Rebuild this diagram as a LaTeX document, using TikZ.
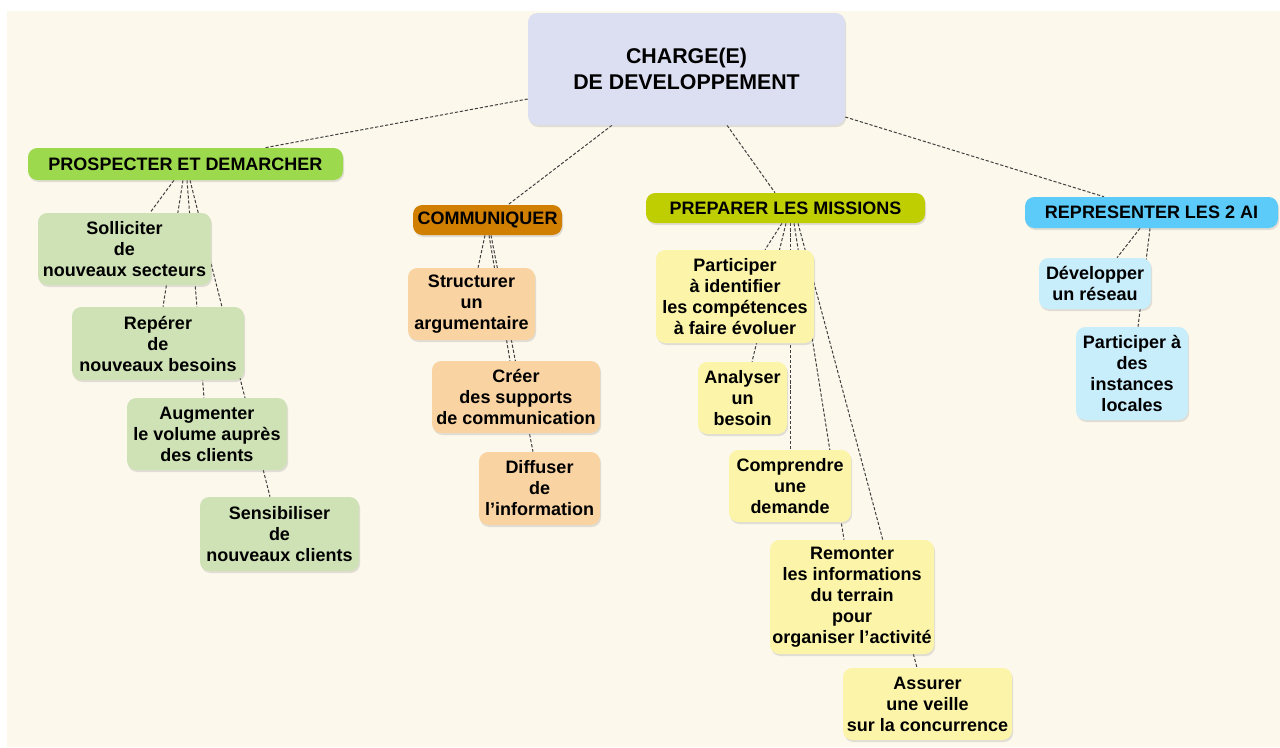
\documentclass[tikz,border=0pt]{standalone}
\usepackage{fontspec}
\setmainfont{Liberation Sans}
\usetikzlibrary{calc,shadows}
\pgfdeclarelayer{bgl}
\pgfdeclarelayer{lnl}
\pgfsetlayers{bgl,lnl,main}
\definecolor{cBg}{HTML}{FCF8EC}
\definecolor{cCtr}{HTML}{DCDFF2}
\definecolor{cPro}{HTML}{9CD94C}
\definecolor{cProL}{HTML}{CFE2B6}
\definecolor{cCom}{HTML}{D17F00}
\definecolor{cComL}{HTML}{FAD3A2}
\definecolor{cPre}{HTML}{BFCE00}
\definecolor{cPreL}{HTML}{FCF5A9}
\definecolor{cRep}{HTML}{5CCBF9}
\definecolor{cRepL}{HTML}{C8EDFB}
\tikzset{
  sz/.style 2 args={minimum width=#1*0.75pt, minimum height=#2*0.75pt},
  basebox/.style={rectangle, rounded corners=7pt, inner sep=0pt, align=center,
    font=\bfseries\fontsize{13.5}{15.75}\selectfont, text=black,
    drop shadow={opacity=0.22, shadow xshift=0.8pt, shadow yshift=-1.5pt}},
  hdr/.style={basebox},
  sub/.style={basebox},
  ctrbox/.style={basebox, font=\bfseries\fontsize{16}{19.5}\selectfont},
  conn/.style={dash pattern=on 2.4pt off 1.4pt, line width=0.75pt, black!75}
}
\begin{document}
\begin{tikzpicture}[x=0.75pt, y=-0.75pt]
\useasboundingbox (0,0) rectangle (1280,747);
\begin{pgfonlayer}{bgl}
\fill[white] (0,0) rectangle (1280,747);
\fill[cBg] (7,11) rectangle (1280,747);
\end{pgfonlayer}

% center
\node[ctrbox, fill=cCtr, sz={317}{112}] (ctr) at (686.5,69) {CHARGE(E)\\DE DEVELOPPEMENT};

% headers
\node[hdr, fill=cPro, sz={315}{32}] (pro) at (185.5,164) {PROSPECTER ET DEMARCHER};
\node[hdr, fill=cCom, sz={149}{30}] (com) at (487.5,220) {COMMUNIQUER};
\node[hdr, fill=cPre, sz={279}{30}] (pre) at (785.5,208) {PREPARER LES MISSIONS};
\node[hdr, fill=cRep, sz={253}{31}] (rep) at (1151.5,212.5) {REPRESENTER LES 2 AI};

% prospecter children
\node[sub, fill=cProL, sz={173}{72}] (sol) at (124.5,249) {Solliciter\\de\\nouveaux secteurs};
\node[sub, fill=cProL, sz={172}{73}] (rer) at (158,343.5) {Repérer\\de\\nouveaux besoins};
\node[sub, fill=cProL, sz={160}{72}] (aug) at (207,434) {Augmenter\\le volume auprès\\des clients};
\node[sub, fill=cProL, sz={159}{74}] (sen) at (279.5,534) {Sensibiliser\\de\\nouveaux clients};

% communiquer children
\node[sub, fill=cComL, sz={127}{72}] (str) at (471.5,304) {Structurer\\un\\argumentaire};
\node[sub, fill=cComL, sz={168}{72}] (cre) at (516,397) {Créer\\des supports\\de communication};
\node[sub, fill=cComL, sz={121}{73}] (dif) at (539.5,488.5) {Diffuser\\de\\l’information};

% preparer children
\node[sub, fill=cPreL, sz={158}{93}] (par) at (735,296.5) {Participer\\à identifier\\les compétences\\à faire évoluer};
\node[sub, fill=cPreL, sz={89}{72}] (ana) at (742.5,398) {Analyser\\un\\besoin};
\node[sub, fill=cPreL, sz={122}{72}] (cmp) at (790,486) {Comprendre\\une\\demande};
\node[sub, fill=cPreL, sz={164}{114}] (rem) at (852,597) {Remonter\\les informations\\du terrain\\pour\\organiser l’activité};
\node[sub, fill=cPreL, sz={169}{72}] (ass) at (927.5,704) {Assurer\\une veille\\sur la concurrence};

% representer children
\node[sub, fill=cRepL, sz={112}{51}] (dev) at (1095,283.5) {Développer\\un réseau};
\node[sub, fill=cRepL, sz={112}{93}] (ins) at (1132,373.5) {Participer à\\des\\instances\\locales};

\begin{pgfonlayer}{lnl}
% center to headers
\draw[conn] ($(ctr.west)+(0,30)$) -- ($(pro.north)+(79.5,0)$);
\draw[conn] ($(ctr.south)+(-74.5,0)$) -- ($(com.north)+(20.5,0)$);
\draw[conn] ($(ctr.south)+(40.5,0)$) -- ($(pre.north)+(-10.5,0)$);
\draw[conn] ($(ctr.east)+(0,48)$) -- ($(rep.north)+(-47.5,0)$);
% prospecter
\draw[conn] ($(pro.south)+(-11.5,0)$) -- ($(sol.north)+(25.5,0)$);
\draw[conn] ($(pro.south)+(-2.5,0)$) -- ($(rer.north)+(5,0)$);
\draw[conn] ($(pro.south)+(1.5,0)$) -- ($(aug.north)+(-3,0)$);
\draw[conn] ($(pro.south)+(4.5,0)$) -- ($(sen.north)+(-9.5,0)$);
% communiquer
\draw[conn] ($(com.south)+(-2.5,0)$) -- ($(str.north)+(6.5,0)$);
\draw[conn] ($(com.south)+(1.5,0)$) -- ($(cre.north)+(-6,0)$);
\draw[conn] ($(com.south)+(3.5,0)$) -- ($(dif.north)+(-6.5,0)$);
% preparer
\draw[conn] ($(pre.south)+(-3.5,0)$) -- ($(par.north)+(30,0)$);
\draw[conn] ($(pre.south)+(0.5,0)$) -- ($(ana.north)+(9.5,0)$);
\draw[conn] ($(pre.south)+(4.5,0)$) -- ($(cmp.north)+(0,0)$);
\draw[conn] ($(pre.south)+(8.5,0)$) -- ($(rem.north)+(-8,0)$);
\draw[conn] ($(pre.south)+(12.5,0)$) -- ($(ass.north)+(-10.5,0)$);
% representer
\draw[conn] ($(rep.south)+(-11.5,0)$) -- ($(dev.north)+(22,0)$);
\draw[conn] ($(rep.south)+(-1.5,0)$) -- ($(ins.north)+(6,0)$);
\end{pgfonlayer}
\end{tikzpicture}
\end{document}
